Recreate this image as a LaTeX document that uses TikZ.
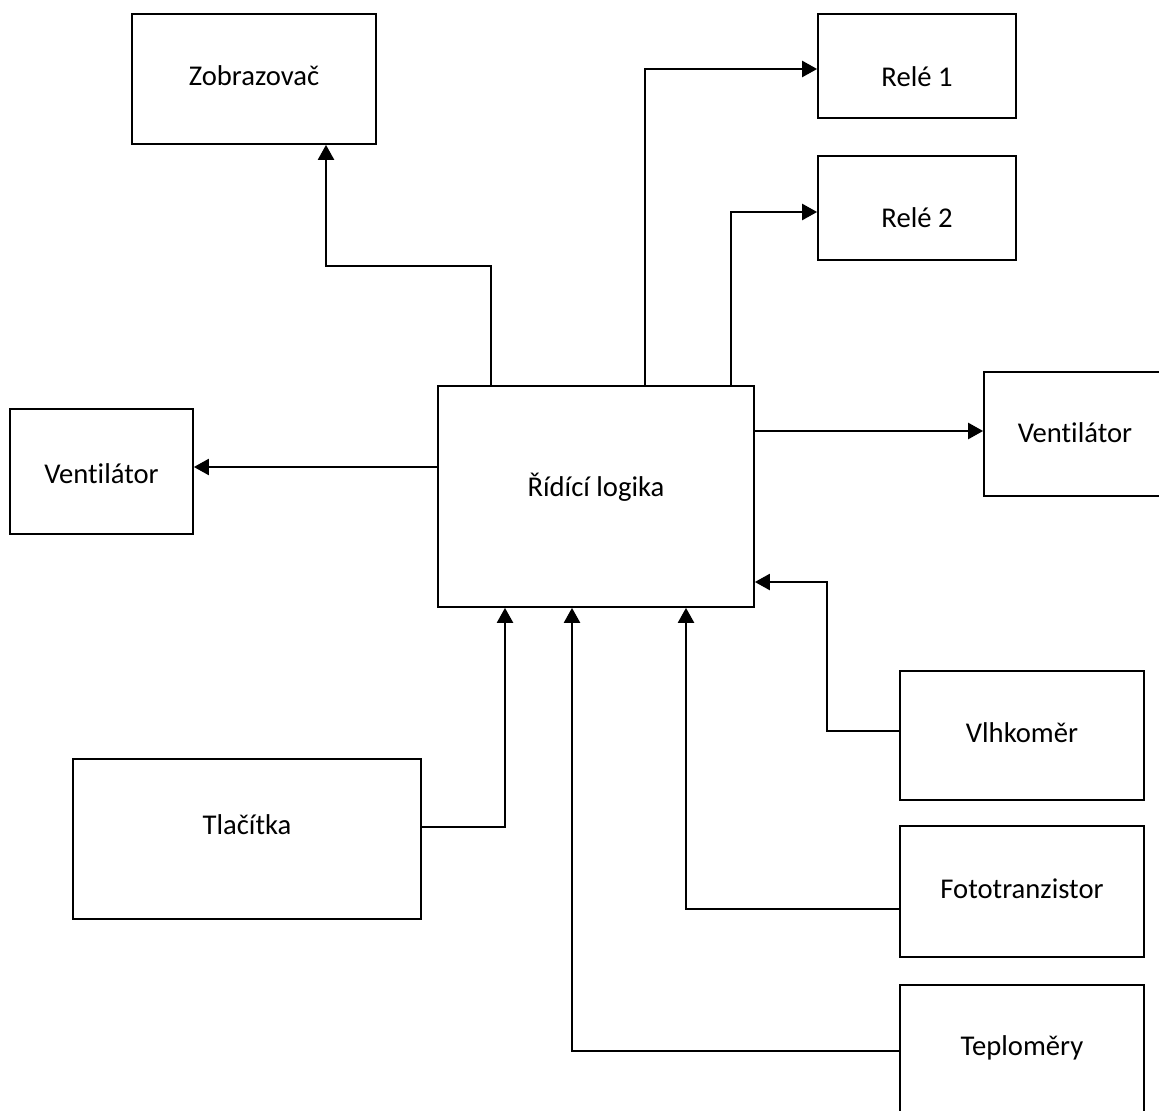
\documentclass[tikz,border=0pt]{standalone}
\usepackage{fontspec}
\setmainfont{Carlito}[Ligatures=NoCommon]
\usetikzlibrary{arrows.meta}
\begin{document}
\begin{tikzpicture}[x=0.02cm, y=-0.02cm, font=\fontsize{16.3pt}{19pt}\selectfont, line join=miter,
		>={Triangle[length=0.3cm,width=0.32cm]},
		blok/.style={draw, line width=1pt, inner sep=0pt, text height=12pt, text depth=1.5pt},
		spoj/.style={->, line width=1.3pt}]
			\clip (0,0) rectangle (1159,1111);
			\node[blok, minimum width=4.88cm, minimum height=2.6cm, text depth=4.9pt] (zobr) at (254,79) {Zobrazovač};
			\node[blok, minimum width=3.96cm, minimum height=2.08cm, text height=24.5pt] (rele1) at (917,66) {Relé 1};
			\node[blok, minimum width=3.96cm, minimum height=2.08cm, text height=23.4pt] (rele2) at (917,208) {Relé 2};
			\node[blok, minimum width=3.66cm, minimum height=2.5cm, text height=15.4pt] (ventL) at (101.5,471.5) {Ventilátor};
			\node[blok, minimum width=6.32cm, minimum height=4.42cm, text depth=12.3pt] (logika) at (596,496.5) {Řídící logika};
			\node[blok, minimum width=3.64cm, minimum height=2.48cm, text depth=2.6pt] (ventR) at (1075,434) {Ventilátor};
			\node[blok, minimum width=4.88cm, minimum height=2.58cm, text depth=4.3pt] (vlhk) at (1022,735.5) {Vlhkoměr};
			\node[blok, minimum width=6.96cm, minimum height=3.2cm, text depth=17.4pt] (tlac) at (247,839) {Tlačítka};
			\node[blok, minimum width=4.88cm, minimum height=2.62cm, text depth=4.3pt] (foto) at (1022,891.5) {Fototranzistor};
			\node[blok, minimum width=4.88cm, minimum height=2.56cm, text depth=4.9pt] (tepl) at (1022,1049) {Teploměry};
			% vystupy
			\draw[spoj] (logika.north -| 491,0) -- (491,266) -| (zobr.south -| 326,0);
			\draw[spoj] (logika.north -| 645,0) |- (rele1.west |- 0,69);
			\draw[spoj] (logika.north -| 731,0) |- (rele2.west |- 0,212);
			\draw[spoj] (logika.west |- 0,467) -- (ventL.east |- 0,467);
			\draw[spoj] (logika.east |- 0,431) -- (ventR.west |- 0,431);
			% vstupy
			\draw[spoj] (vlhk.west |- 0,731) -| (827,582) -- (logika.east |- 0,582);
			\draw[spoj] (tlac.east |- 0,827) -| (logika.south -| 505,0);
			\draw[spoj] (foto.west |- 0,909) -| (logika.south -| 686,0);
			\draw[spoj] (tepl.west |- 0,1051) -| (logika.south -| 572,0);
		\end{tikzpicture}
\end{document}
